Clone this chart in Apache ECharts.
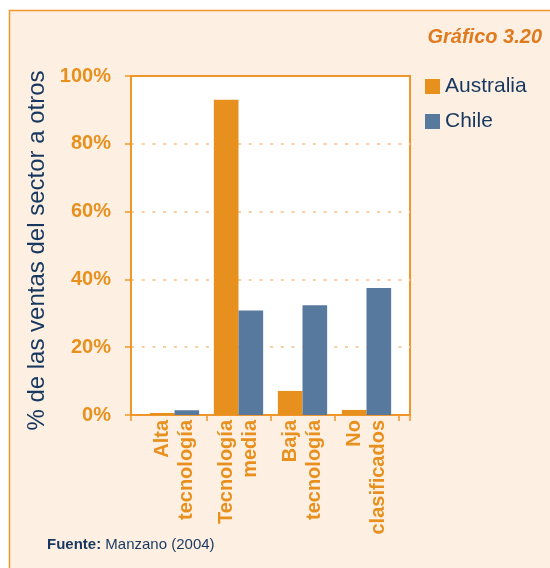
<!DOCTYPE html>
<html>
<head>
<meta charset="utf-8">
<script src="https://cdn.jsdelivr.net/npm/echarts@6/dist/echarts.min.js"></script>
<style>
  html, body { margin: 0; padding: 0; background: #ffffff; }
  #chart { width: 550px; height: 568px; }
</style>
</head>
<body>
<div id="chart"></div>
<script>
// Sector sales shares by technology level
const categories = ['Alta\ntecnología', 'Tecnología\nmedia', 'Baja\ntecnología', 'No\nclasificados'];
const australia = [0.6, 93.0, 7.1, 1.5];
const chile = [1.4, 30.8, 32.4, 37.5];
const yTicks = [0, 20, 40, 60, 80, 100];

const ORANGE = '#E8901E';
const FRAME = '#F0962A';
const NAVY = '#17375E';
const BLUE = '#58799E';
const SANS = '"Liberation Sans", Arial, sans-serif';

const chart = echarts.init(document.getElementById('chart'), null, { renderer: 'canvas' });

chart.setOption({
  animation: false,
  backgroundColor: '#ffffff',
  graphic: [
    {
      type: 'rect', z: -10, silent: true,
      shape: { x: 9.5, y: 10.5, width: 600, height: 600 },
      style: { fill: '#FDF0E3', stroke: FRAME, lineWidth: 1.5 }
    },
    {
      type: 'text', left: 47, top: 537,
      style: {
        text: '{b|Fuente:} Manzano (2004)',
        font: '15px ' + SANS, fill: NAVY,
        rich: { b: { font: 'bold 15px ' + SANS, fill: NAVY } }
      }
    }
  ],
  title: {
    text: 'Gráfico 3.20',
    right: 3, top: 22,
    textStyle: { color: '#E07A1E', fontSize: 20, fontWeight: 'bold', fontStyle: 'italic', fontFamily: SANS }
  },
  legend: {
    orient: 'vertical', left: 425, top: 76, padding: 0,
    itemWidth: 15, itemHeight: 15, itemGap: 14,
    icon: 'rect',
    textStyle: { color: NAVY, fontSize: 21, fontFamily: SANS },
    data: ['Australia', 'Chile']
  },
  grid: [
    // plot frame
    { left: 131, right: 140, top: 76, bottom: 153, show: true, backgroundColor: '#ffffff',
      borderColor: FRAME, borderWidth: 2 },
    // bar layout
    { left: 142.5, right: 151.5, top: 76, bottom: 153 }
  ],
  xAxis: [
    {
      gridIndex: 0, type: 'value', min: 0, max: 1, interval: 1,
      axisLine: { show: true, lineStyle: { color: FRAME, width: 2 } },
      axisTick: { show: true, length: 6, lineStyle: { color: FRAME, width: 1.5 } },
      axisLabel: { show: false }, splitLine: { show: false }
    },
    {
      gridIndex: 1, type: 'category', data: categories,
      axisLine: { show: false },
      axisTick: {
        show: true, length: 6, lineStyle: { color: FRAME, width: 1.5 },
        // separators between groups only; the frame edges carry their own ticks
        interval: function (index) { return index > 0; }
      },
      axisLabel: {
        rotate: 90, margin: 5, interval: 0,
        color: ORANGE, fontFamily: SANS, fontWeight: 'bold', fontSize: 20, lineHeight: 24
      }
    }
  ],
  yAxis: [
    {
      gridIndex: 0, type: 'value', min: yTicks[0], max: yTicks[yTicks.length - 1], interval: 20,
      name: '% de las ventas del sector a otros',
      nameLocation: 'middle', nameGap: 70, nameRotate: 90,
      nameTextStyle: { color: NAVY, fontSize: 24, fontFamily: SANS, padding: [0, 10, 0, 0] },
      axisLine: { show: true, lineStyle: { color: FRAME, width: 2 } },
      axisTick: { show: true, length: 6, lineStyle: { color: FRAME, width: 1.5 } },
      axisLabel: {
        margin: 20, color: ORANGE, fontFamily: SANS, fontWeight: 'bold', fontSize: 20,
        formatter: '{value}%'
      },
      splitLine: {
        show: true, showMinLine: false, showMaxLine: false,
        lineStyle: { color: '#F6CFA4', width: 2, type: [3, 7.7] }
      }
    },
    {
      gridIndex: 1, type: 'value', min: yTicks[0], max: yTicks[yTicks.length - 1],
      show: false
    }
  ],
  series: [
    {
      name: 'Australia', type: 'bar', xAxisIndex: 1, yAxisIndex: 1,
      data: australia, barGap: '0%', barCategoryGap: '23%',
      itemStyle: { color: ORANGE }
    },
    {
      name: 'Chile', type: 'bar', xAxisIndex: 1, yAxisIndex: 1,
      data: chile, barGap: '0%', barCategoryGap: '23%',
      itemStyle: { color: BLUE }
    }
  ]
});
</script>
</body>
</html>
